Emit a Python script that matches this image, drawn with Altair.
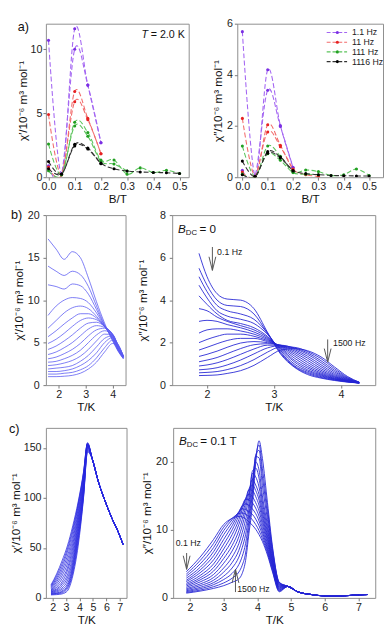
import altair as alt
import pandas as pd

FONT = "Liberation Sans"

# ================= a) field sweeps at T = 2.0 K =================
B_field = [0.0, 0.05, 0.10, 0.15, 0.20, 0.25, 0.30, 0.35, 0.40, 0.45, 0.50]
freqs = ["1.1 Hz", "11 Hz", "111 Hz", "1116 Hz"]
line_colors = ["#a466f2", "#f26b6b", "#5cc45c", "#333333"]
point_colors = ["#7b2fe3", "#e62222", "#22a022", "#000000"]

# chi' (10^-6 m3 mol^-1), two sweeps per frequency
chi1_f1_sweep1 = [10.7, 0.25, 11.6, 7.2, 2.7]
chi1_f1_sweep2 = [0.9, 0.25, 10.0, 7.2, 2.7]
chi1_f2_sweep1 = [4.9, 0.2, 6.7, 4.6, 1.84]
chi1_f2_sweep2 = [0.8, 0.2, 5.9, 4.5, 1.84]
chi1_f3_sweep1 = [2.6, 0.2, 4.3, 3.5, 1.35, 1.35, 0.24, 0.73, 0.37, 0.54, 0.29]
chi1_f3_sweep2 = [0.5, 0.2, 4.0, 3.2, 1.25, 1.03, 0.49]
chi1_f4_sweep1 = [1.22, 0.25, 2.57, 2.28, 1.1, 0.66, 0.49, 0.41, 0.37, 0.35, 0.29]
chi1_f4_sweep2 = [0.66, 0.25, 2.45, 2.2, 1.05]
# chi''
chi2_f1_sweep1 = [5.69, 0.05, 4.2, 2.02, 0.38]
chi2_f1_sweep2 = [0.27, 0.05, 3.4, 1.98, 0.38]
chi2_f2_sweep1 = [2.3, 0.04, 2.05, 1.25, 0.32, 0.1, 0.04]
chi2_f2_sweep2 = [0.2, 0.04, 1.77, 1.19, 0.3]
chi2_f3_sweep1 = [1.22, 0.03, 1.22, 0.82, 0.2, 0.28, 0.22, 0.07, 0.1, 0.32, 0.07]
chi2_f3_sweep2 = [0.12, 0.03, 0.92, 0.66, 0.18, 0.12, 0.1]
chi2_f4_sweep1 = [0.63, 0.03, 1.0, 0.79, 0.26, 0.14, 0.1, 0.07, 0.06, 0.05, 0.05]
chi2_f4_sweep2 = [0.1, 0.03, 0.94, 0.75, 0.24]

# ================= b) B_DC = 0 =================
T_b_chi1 = [1.6, 1.9, 2.2, 2.5, 2.8, 3.1, 3.4, 3.7, 4.0, 4.2, 4.4]
chi1_b = [
    [17.2, 16.0, 14.8, 15.7, 15.0, 12.6, 9.8, 7.3, 5.2, 4.0, 3.1],
    [14.0, 13.4, 12.9, 13.4, 13.0, 11.6, 9.3, 7.1, 5.3, 4.1, 3.1],
    [11.8, 11.6, 11.3, 11.9, 11.7, 10.7, 8.9, 7.0, 5.4, 4.1, 3.2],
    [8.2, 9.3, 10.0, 10.3, 10.2, 9.7, 8.5, 6.9, 5.5, 4.2, 3.2],
    [6.7, 7.6, 8.5, 9.1, 9.3, 9.0, 8.1, 6.9, 5.6, 4.2, 3.2],
    [5.7, 6.4, 7.2, 7.9, 8.4, 8.4, 7.9, 6.9, 5.7, 4.3, 3.3],
    [4.9, 5.4, 6.1, 6.9, 7.6, 7.9, 7.7, 6.9, 5.8, 4.3, 3.3],
    [4.2, 4.6, 5.2, 5.9, 6.7, 7.3, 7.4, 6.9, 5.9, 4.4, 3.3],
    [3.6, 3.9, 4.4, 5.0, 5.8, 6.6, 7.0, 6.8, 5.9, 4.4, 3.3],
    [3.1, 3.3, 3.7, 4.2, 4.9, 5.8, 6.5, 6.7, 6.0, 4.5, 3.3],
    [2.7, 2.8, 3.1, 3.5, 4.1, 5.0, 5.9, 6.4, 6.0, 4.6, 3.4],
    [2.3, 2.4, 2.6, 2.9, 3.4, 4.2, 5.2, 6.0, 5.9, 4.7, 3.4],
    [1.9, 2.0, 2.1, 2.3, 2.8, 3.5, 4.5, 5.5, 5.8, 4.7, 3.4],
    [1.6, 1.6, 1.7, 1.9, 2.3, 2.9, 3.8, 5.0, 5.6, 4.8, 3.4],
    [1.3, 1.3, 1.4, 1.5, 1.8, 2.3, 3.2, 4.4, 5.3, 4.8, 3.4],
    [1.0, 1.0, 1.05, 1.15, 1.4, 1.9, 2.7, 3.9, 4.9, 4.6, 3.4],
]
T_b_chi2 = [1.88, 2.0, 2.15, 2.3, 2.5, 2.7, 2.9, 3.1, 3.3, 3.5, 3.7, 3.9, 4.1, 4.27]
chi2_b = [
    [6.2, 5.1, 4.3, 4.05, 4.0, 3.6, 2.5, 1.45, 0.85, 0.5, 0.33, 0.22, 0.14, 0.1],
    [5.5, 4.7, 4.0, 3.75, 3.7, 3.35, 2.45, 1.5, 0.88, 0.55, 0.36, 0.24, 0.15, 0.1],
    [5.1, 4.4, 3.75, 3.5, 3.35, 3.1, 2.45, 1.55, 0.92, 0.6, 0.4, 0.26, 0.16, 0.1],
    [4.7, 4.1, 3.5, 3.25, 3.1, 2.9, 2.4, 1.62, 1.0, 0.66, 0.44, 0.28, 0.17, 0.1],
    [4.2, 3.8, 3.35, 3.05, 2.9, 2.7, 2.3, 1.68, 1.1, 0.72, 0.48, 0.3, 0.18, 0.1],
    [3.6, 3.5, 3.2, 3.0, 2.8, 2.6, 2.25, 1.72, 1.18, 0.8, 0.52, 0.32, 0.19, 0.1],
    [3.0, 3.05, 3.0, 2.85, 2.7, 2.5, 2.2, 1.76, 1.28, 0.88, 0.57, 0.35, 0.2, 0.11],
    [2.45, 2.6, 2.65, 2.65, 2.55, 2.4, 2.15, 1.8, 1.38, 0.97, 0.63, 0.38, 0.21, 0.11],
    [2.0, 2.15, 2.3, 2.4, 2.4, 2.3, 2.1, 1.83, 1.47, 1.07, 0.7, 0.41, 0.22, 0.11],
    [1.65, 1.78, 1.95, 2.1, 2.2, 2.2, 2.05, 1.85, 1.55, 1.17, 0.78, 0.45, 0.24, 0.12],
    [1.35, 1.45, 1.6, 1.78, 1.98, 2.05, 2.0, 1.87, 1.62, 1.27, 0.87, 0.5, 0.26, 0.12],
    [1.1, 1.18, 1.3, 1.48, 1.72, 1.9, 1.95, 1.88, 1.68, 1.36, 0.96, 0.56, 0.28, 0.12],
    [0.9, 0.95, 1.05, 1.2, 1.45, 1.7, 1.88, 1.88, 1.73, 1.45, 1.06, 0.63, 0.3, 0.13],
    [0.72, 0.75, 0.82, 0.95, 1.18, 1.47, 1.75, 1.86, 1.76, 1.52, 1.15, 0.7, 0.33, 0.13],
    [0.58, 0.6, 0.64, 0.73, 0.92, 1.2, 1.55, 1.8, 1.78, 1.58, 1.25, 0.78, 0.36, 0.14],
    [0.45, 0.46, 0.48, 0.55, 0.68, 0.93, 1.3, 1.65, 1.72, 1.62, 1.33, 0.86, 0.4, 0.14],
]

# ================= c) B_DC = 0.1 T =================
T_c_chi1 = [1.88, 2.3, 2.7, 3.1, 3.5, 3.9, 4.3, 4.6]
chi1_c = [
    [13, 24, 37, 52, 72, 96, 126, 155],
    [12, 22, 34, 49, 69, 94, 125, 155],
    [11, 20, 31, 46, 66, 92, 124, 154],
    [10, 18, 28, 42, 62, 89, 122, 154],
    [9, 16, 25, 38, 58, 86, 120, 154],
    [8, 14, 22, 34, 54, 83, 118, 153],
    [7.5, 12, 19, 30, 50, 80, 116, 153],
    [7, 10.5, 16, 27, 46, 77, 114, 152],
    [6.5, 9, 14, 23, 42, 74, 112, 152],
    [6, 8, 12, 20, 38, 71, 110, 151],
    [5.5, 7, 10, 17, 35, 68, 108, 151],
    [5, 6, 8.5, 14, 32, 65, 106, 150],
    [4.5, 5, 7, 12, 30, 62, 104, 149],
    [4, 4.5, 6, 10.5, 27, 59, 103, 148],
    [3.5, 4, 5, 9, 25, 56, 101, 147],
    [3, 3.3, 4, 7, 22, 52, 100, 146],
]
T_c_chi1_tail = [4.95, 5.43, 5.9, 6.4, 6.88, 7.24]
chi1_c_tail = [139, 115, 97, 80, 66, 53.5]

T_c_chi2 = [1.89, 2.3, 2.7, 3.0, 3.25, 3.45, 3.55, 3.65, 3.75, 3.85, 3.95, 4.05, 4.15, 4.3,
            4.45, 4.65]
chi2_c = [
    [3.85, 6.0, 8.6, 10.8, 11.7, 12.0, 11.9, 11.6, 11.2, 10.7, 10.1, 9.3, 8.3, 6.3, 3.8, 0.9],
    [3.5, 5.5, 8.0, 10.4, 11.7, 12.4, 12.5, 12.3, 12.0, 11.5, 10.8, 9.9, 8.7, 6.6, 4.0, 1.0],
    [3.2, 5.0, 7.4, 9.9, 11.5, 12.6, 13.1, 13.0, 12.7, 12.3, 11.6, 10.6, 9.2, 6.9, 4.2, 1.1],
    [2.9, 4.5, 6.8, 9.3, 11.1, 12.7, 13.5, 13.8, 13.6, 13.1, 12.4, 11.3, 9.7, 7.2, 4.4, 1.2],
    [2.6, 4.1, 6.2, 8.6, 10.6, 12.5, 13.6, 14.5, 14.4, 14.0, 13.2, 12.0, 10.2, 7.5, 4.6, 1.3],
    [2.4, 3.7, 5.6, 7.9, 10.0, 12.1, 13.4, 14.6, 15.2, 14.9, 14.0, 12.8, 10.8, 7.9, 4.8, 1.4],
    [2.15, 3.3, 5.0, 7.2, 9.3, 11.5, 13.0, 14.5, 15.9, 15.8, 14.9, 13.6, 11.4, 8.3, 5.0, 1.5],
    [1.95, 2.95, 4.45, 6.5, 8.5, 10.8, 12.3, 14.0, 16.0, 16.6, 15.8, 14.4, 12.0, 8.7, 5.2, 1.6],
    [1.75, 2.65, 3.95, 5.8, 7.7, 9.9, 11.5, 13.3, 15.5, 17.4, 16.6, 15.2, 12.6, 9.1, 5.4, 1.7],
    [1.55, 2.35, 3.45, 5.1, 6.9, 9.0, 10.6, 12.5, 14.8, 18.3, 17.8, 16.3, 13.3, 9.6, 5.6, 1.8],
    [1.35, 2.05, 3.0, 4.4, 6.0, 8.0, 9.6, 11.5, 13.9, 18.6, 19.1, 17.6, 14.1, 10.1, 5.9, 1.9],
    [1.2, 1.8, 2.6, 3.8, 5.2, 7.0, 8.5, 10.4, 13.0, 17.2, 20.0, 18.8, 15.0, 10.7, 6.2, 2.0],
    [1.05, 1.55, 2.25, 3.2, 4.4, 6.0, 7.4, 9.3, 12.2, 16.3, 20.8, 20.6, 16.5, 11.5, 6.5, 2.1],
    [0.92, 1.35, 1.95, 2.7, 3.6, 4.9, 6.1, 8.0, 11.3, 15.4, 21.0, 21.7, 17.8, 12.3, 6.9, 2.2],
    [0.8, 1.15, 1.65, 2.2, 2.9, 3.8, 4.8, 6.6, 10.4, 14.5, 20.5, 22.5, 19.0, 13.1, 7.2, 2.25],
    [0.7, 1.0, 1.4, 1.8, 2.3, 2.8, 3.6, 5.5, 9.5, 13.5, 19.8, 23.1, 20.5, 14.0, 7.5, 2.3],
]
T_c_chi2_tail = [4.9, 5.2, 5.6, 6.0, 6.5, 7.0, 7.28]
chi2_c_tail = [1.7, 0.9, 0.5, 0.3, 0.3, 0.45, 0.5]

# ================= helpers =================
ONE = pd.DataFrame({"k": [0]})
CHI1_TITLE = "χ′/10⁻⁶ m³ mol⁻¹"
CHI2_TITLE = "χ″/10⁻⁶ m³ mol⁻¹"


def a_table(series):
    rows = []
    for freq, sweep, vals in series:
        for b, v in zip(B_field, vals):
            rows.append({"B": b, "chi": v, "freq": freq, "series": f"{freq}-{sweep}"})
    return pd.DataFrame(rows)


def multi_table(T, curves, T_tail=None, tail=None):
    rows = []
    for i, c in enumerate(curves):
        xs = list(T) + (list(T_tail) if T_tail else [])
        ys = list(c) + (list(tail) if tail else [])
        for t, v in zip(xs, ys):
            rows.append({"T": t, "chi": v, "curve": i})
    return pd.DataFrame(rows)


def axes(xfield, xdom, xvals, xfmt, xtitle, ydom, yvals, ytitle, lp, tp):
    x = alt.X(f"{xfield}:Q", scale=alt.Scale(domain=xdom, nice=False, zero=False),
              axis=alt.Axis(values=xvals, format=xfmt, title=xtitle,
                            labelPadding=1, titlePadding=2))
    y = alt.Y("chi:Q", scale=alt.Scale(domain=ydom, nice=False, zero=False),
              axis=alt.Axis(values=yvals, title=ytitle, labelPadding=lp, titlePadding=tp))
    return x, y


def txt(s, x, y, size=11, style="normal", align="left", color="#111", baseline="middle"):
    return alt.Chart(ONE).mark_text(text=s, fontSize=size, fontStyle=style, align=align,
                                    baseline=baseline, color=color, font=FONT).encode(
        x=alt.value(x), y=alt.value(y))


def dtxt(s, xv, yv, size=9, align="left"):
    return alt.Chart(ONE).mark_text(text=s, fontSize=size, align=align, baseline="middle",
                                    color="#222", font=FONT).encode(
        x=alt.datum(xv), y=alt.datum(yv))


def arrow(xv, y_from, y_to, up=False):
    shaft = alt.Chart(ONE).mark_rule(color="#555", strokeWidth=1).encode(
        x=alt.datum(xv), y=alt.datum(y_from), y2=alt.datum(y_to))
    shape = "M-1,4L0,0L1,4" if up else "M-1,-4L0,0L1,-4"
    head = alt.Chart(ONE).mark_point(shape=shape, filled=False, size=49, color="#555",
                                     strokeWidth=1, opacity=1).encode(
        x=alt.datum(xv), y=alt.datum(y_to))
    return [shaft, head]


def bdc(value_text):
    return [txt("B", 6, 14, size=12, style="italic"),
            txt("DC", 14, 18, size=8),
            txt(value_text, 28, 14, size=12)]


def a_panel(df, x, y):
    lines = alt.Chart(df).mark_line(interpolate="cardinal", strokeDash=[5, 2.5],
                                    strokeWidth=1.1, clip=True).encode(
        x=x, y=y, detail="series:N",
        color=alt.Color("freq:N", scale=alt.Scale(domain=freqs, range=line_colors), legend=None))
    pts = alt.Chart(df).mark_circle(size=10, opacity=1, clip=True).encode(
        x=x, y=y,
        color=alt.Color("freq:N", scale=alt.Scale(domain=freqs, range=point_colors), legend=None))
    return [lines, pts]


def curves(df, x, y, color, width):
    return alt.Chart(df).mark_line(interpolate="monotone", color=color, strokeWidth=width,
                                   clip=True).encode(x=x, y=y, detail="curve:N")


# ================= panel a left =================
AW1, AW2, AH = 147, 150, 158
a1_df = a_table([
    (freqs[0], 1, chi1_f1_sweep1), (freqs[0], 2, chi1_f1_sweep2),
    (freqs[1], 1, chi1_f2_sweep1), (freqs[1], 2, chi1_f2_sweep2),
    (freqs[2], 1, chi1_f3_sweep1), (freqs[2], 2, chi1_f3_sweep2),
    (freqs[3], 1, chi1_f4_sweep1), (freqs[3], 2, chi1_f4_sweep2),
])
xa1, ya1 = axes("B", [-0.01, 0.535], [0, 0.1, 0.2, 0.3, 0.4, 0.5], ".1f", "B/T",
                [0, 12], [0, 5, 10], CHI1_TITLE, 1, 1)
a_left = alt.layer(
    *a_panel(a1_df, xa1, ya1),
    txt("T", AW1 - 42, 12, size=11, style="italic", align="right"),
    txt("= 2.0 K", AW1 - 4, 12, size=11, align="right"),
    txt("a)", -29, 3, size=13),
).resolve_scale(color="independent").properties(width=AW1, height=AH)

# ================= panel a right =================
a2_df = a_table([
    (freqs[0], 1, chi2_f1_sweep1), (freqs[0], 2, chi2_f1_sweep2),
    (freqs[1], 1, chi2_f2_sweep1), (freqs[1], 2, chi2_f2_sweep2),
    (freqs[2], 1, chi2_f3_sweep1), (freqs[2], 2, chi2_f3_sweep2),
    (freqs[3], 1, chi2_f4_sweep1), (freqs[3], 2, chi2_f4_sweep2),
])
xa2, ya2 = axes("B", [-0.02, 0.555], [0, 0.1, 0.2, 0.3, 0.4, 0.5], ".1f", "B/T",
                [0, 6], [0, 2, 4, 6], CHI2_TITLE, 2, 2)
legend_layers = []
for i, f in enumerate(freqs):
    yy = 9 + 10 * i
    legend_layers.append(alt.Chart(ONE).mark_rule(color=line_colors[i], strokeDash=[4, 2],
                                                  strokeWidth=1.1).encode(
        x=alt.value(AW2 - 58), x2=alt.value(AW2 - 37), y=alt.value(yy)))
    legend_layers.append(alt.Chart(ONE).mark_circle(color=point_colors[i], size=10,
                                                    opacity=1).encode(
        x=alt.value(AW2 - 47), y=alt.value(yy)))
    legend_layers.append(txt(f, AW2 - 32, yy, size=9, color="#222"))
a_right = alt.layer(*a_panel(a2_df, xa2, ya2), *legend_layers).resolve_scale(
    color="independent").properties(width=AW2, height=AH)

# ================= panel b =================
BH = 175
b1_df = multi_table(T_b_chi1, chi1_b)
xb1, yb1 = axes("T", [1.52, 4.48], [2, 3, 4], "d", "T/K", [0, 20], [0, 5, 10, 15, 20],
                CHI1_TITLE, 4, 2)
b_left = alt.layer(
    curves(b1_df, xb1, yb1, "#5b5bf2", 0.8),
    txt("b)", -36, 0, size=13),
).properties(width=82, height=BH)

b2_df = multi_table(T_b_chi2, chi2_b)
xb2, yb2 = axes("T", [1.48, 4.51], [2, 3, 4], "d", "T/K", [0, 8], [0, 2, 4, 6, 8],
                CHI2_TITLE, 4, 10)
b_right = alt.layer(
    curves(b2_df, xb2, yb2, "#2626d4", 0.9),
    *bdc("= 0"),
    *arrow(2.08, 6.5, 5.4),
    dtxt("0.1 Hz", 2.15, 6.25),
    *arrow(3.80, 2.15, 1.08),
    dtxt("1500 Hz", 3.88, 1.97),
).properties(width=209, height=BH)

# ================= panel c =================
CH = 175
c1_df = multi_table(T_c_chi1, chi1_c, T_c_chi1_tail, chi1_c_tail)
xc1, yc1 = axes("T", [1.5, 7.5], [2, 3, 4, 5, 6, 7], "d", "T/K", [0, 170], [0, 50, 100, 150],
                CHI1_TITLE, 2, 1)
c_left = alt.layer(
    curves(c1_df, xc1, yc1, "#2a2ae0", 0.8),
    txt("c)", -38, 1, size=13),
).properties(width=83, height=CH)

c2_df = multi_table(T_c_chi2, chi2_c, T_c_chi2_tail, chi2_c_tail)
xc2, yc2 = axes("T", [1.5, 7.5], [2, 3, 4, 5, 6, 7], "d", "T/K", [0, 25],
                [0, 5, 10, 15, 20, 25], CHI2_TITLE, 3, 2)
c_right = alt.layer(
    curves(c2_df, xc2, yc2, "#2626d4", 0.9),
    *bdc("= 0.1 T"),
    *arrow(1.9, 6.6, 4.2),
    dtxt("0.1 Hz", 1.95, 8.0, align="center"),
    *arrow(3.35, 0.86, 4.2, up=True),
    dtxt("1500 Hz", 3.4, 1.3),
).properties(width=208, height=CH)

row_a = alt.hconcat(a_left, a_right, spacing=22)
row_b = alt.hconcat(b_left, b_right, spacing=10)
row_c = alt.hconcat(c_left, c_right, spacing=13)

chart = alt.vconcat(row_a, alt.vconcat(row_b, row_c, spacing=9), spacing=3).properties(padding=0)
chart = chart.configure(font=FONT).configure_view(
    stroke="#8c8c8c", strokeWidth=1
).configure_axis(
    domain=False, grid=False, ticks=True, tickColor="#777", tickSize=3,
    labelColor="#222", labelFontSize=11, titleFontSize=12, titleFontWeight="normal",
    titleColor="#111", labelFont=FONT, titleFont=FONT
)

chart.save("out.html", embed_options={"renderer": "svg", "actions": False})
